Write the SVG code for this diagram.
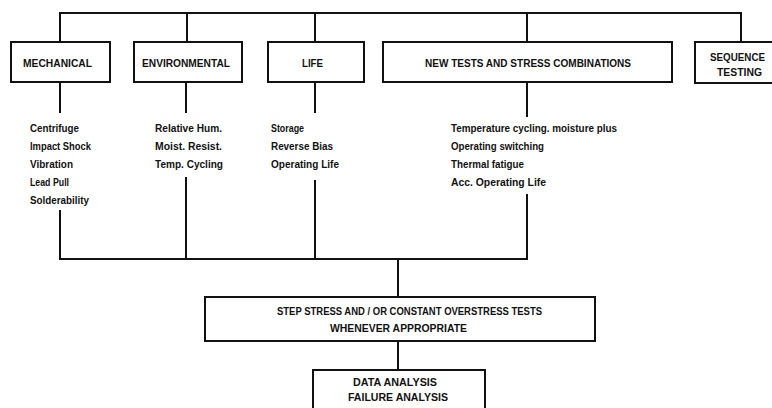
<svg xmlns="http://www.w3.org/2000/svg" width="772" height="408" viewBox="0 0 772 408">
<style>
rect.box{fill:#fff;stroke:#111;stroke-width:2}
#connectors path{fill:none;stroke:#111;stroke-width:2}
text{font-family:"Liberation Sans",Arial,sans-serif;fill:#111;font-weight:bold}
.cap{font-size:10px}
.item{font-size:10px}
.mid{text-anchor:middle}
</style>
<rect width="772" height="408" fill="#fff"/>
<g id="connectors">
<path d="M60,42 V13 H741 V42 M187,13 V42 M315,13 V42 M527,13 V42"/>
<path d="M60,82 V113 M186,82 V113 M315,82 V113 M527,82 V117"/>
<path d="M60,210 V259 H527 V194 M186,177 V259 M315,180 V259 M398,259 V297"/>
<path d="M398,341 V370"/>
</g>
<g id="mechanical">
<rect class="box" x="11" y="42" width="99" height="40"/>
<text class="cap" x="23" y="66.5" textLength="69" lengthAdjust="spacingAndGlyphs">MECHANICAL</text>
</g>
<g id="environmental">
<rect class="box" x="134" y="42" width="108" height="40"/>
<text class="cap" x="142" y="66.5" textLength="88" lengthAdjust="spacingAndGlyphs">ENVIRONMENTAL</text>
</g>
<g id="life">
<rect class="box" x="268" y="42" width="96" height="40"/>
<text class="cap" x="302" y="66.5" textLength="21" lengthAdjust="spacingAndGlyphs">LIFE</text>
</g>
<g id="newtests">
<rect class="box" x="383" y="42" width="289" height="40"/>
<text class="cap" x="425" y="66.5" textLength="206" lengthAdjust="spacingAndGlyphs">NEW TESTS AND STRESS COMBINATIONS</text>
</g>
<g id="sequence">
<rect class="box" x="695" y="42" width="90" height="41"/>
<text class="cap" x="710" y="60.5" textLength="55" lengthAdjust="spacingAndGlyphs">SEQUENCE</text>
<text class="cap" x="717" y="75.5" textLength="45" lengthAdjust="spacingAndGlyphs">TESTING</text>
</g>
<g id="mechanical-items">
<text class="item" x="30" y="132" textLength="49" lengthAdjust="spacingAndGlyphs">Centrifuge</text>
<text class="item" x="30" y="150" textLength="61" lengthAdjust="spacingAndGlyphs">Impact Shock</text>
<text class="item" x="30" y="168" textLength="43" lengthAdjust="spacingAndGlyphs">Vibration</text>
<text class="item" x="30" y="186" textLength="39" lengthAdjust="spacingAndGlyphs">Lead Pull</text>
<text class="item" x="30" y="204" textLength="59" lengthAdjust="spacingAndGlyphs">Solderability</text>
</g>
<g id="environmental-items">
<text class="item" x="155" y="132" textLength="67" lengthAdjust="spacingAndGlyphs">Relative Hum.</text>
<text class="item" x="155" y="150" textLength="67" lengthAdjust="spacingAndGlyphs">Moist. Resist.</text>
<text class="item" x="155" y="168" textLength="68" lengthAdjust="spacingAndGlyphs">Temp. Cycling</text>
</g>
<g id="life-items">
<text class="item" x="271" y="132" textLength="33" lengthAdjust="spacingAndGlyphs">Storage</text>
<text class="item" x="271" y="150" textLength="62" lengthAdjust="spacingAndGlyphs">Reverse Bias</text>
<text class="item" x="271" y="168" textLength="68" lengthAdjust="spacingAndGlyphs">Operating Life</text>
</g>
<g id="newtests-items">
<text class="item" x="451" y="132" textLength="166" lengthAdjust="spacingAndGlyphs">Temperature cycling. moisture plus</text>
<text class="item" x="451" y="150" textLength="93" lengthAdjust="spacingAndGlyphs">Operating switching</text>
<text class="item" x="451" y="168" textLength="73" lengthAdjust="spacingAndGlyphs">Thermal fatigue</text>
<text class="item" x="451" y="186" textLength="95" lengthAdjust="spacingAndGlyphs">Acc. Operating Life</text>
</g>
<g id="stepstress">
<rect class="box" x="205" y="297" width="390" height="44"/>
<text class="cap" x="277" y="315" textLength="265" lengthAdjust="spacingAndGlyphs">STEP STRESS AND / OR CONSTANT OVERSTRESS TESTS</text>
<text class="cap" x="330" y="332" textLength="137" lengthAdjust="spacingAndGlyphs">WHENEVER APPROPRIATE</text>
</g>
<g id="analysis">
<rect class="box" x="313" y="370" width="172" height="50"/>
<text class="cap" x="353" y="385.5" textLength="84" lengthAdjust="spacingAndGlyphs">DATA ANALYSIS</text>
<text class="cap" x="348" y="400.5" textLength="100" lengthAdjust="spacingAndGlyphs">FAILURE ANALYSIS</text>
</g>
</svg>
